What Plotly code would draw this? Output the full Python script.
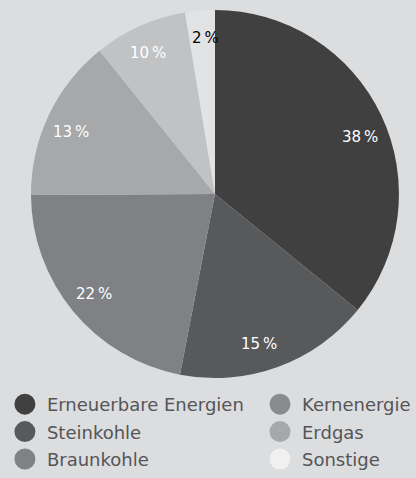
import math
import plotly.graph_objects as go

categories = ["Erneuerbare Energien", "Steinkohle", "Braunkohle", "Kernenergie", "Erdgas", "Sonstige"]
values = [35.9, 17.2, 21.9, 14.3, 8.2, 2.6]
# percentages printed on the slices
label_values = [38, 15, 22, 13, 10, 2]
colors = ["#404040", "#58595b", "#808184", "#a7a8aa", "#c1c2c4", "#e2e3e4"]
legend_colors = ["#404040", "#58595b", "#808184", "#8a8b8e", "#a7a8aa", "#f0f0f1"]
text_colors = ["white", "white", "white", "white", "white", "black"]

BG = "#dcdddf"
FONT = "DejaVu Sans"
W, H = 416, 478
DOM_X = [0.0745, 0.959]
DOM_Y = [0.209, 0.979]
LABEL_R = 0.85  # label distance as fraction of radius

fig = go.Figure()
fig.add_trace(go.Pie(
    labels=categories,
    values=values,
    textinfo="none",
    sort=False,
    direction="clockwise",
    rotation=0,
    marker=dict(colors=colors, line=dict(width=0)),
    showlegend=False,
    hoverinfo="label+percent",
    domain=dict(x=DOM_X, y=DOM_Y),
))

# printed labels, placed along the mid-angle of their printed share
cx = (DOM_X[0] + DOM_X[1]) / 2 * W
cy = (DOM_Y[0] + DOM_Y[1]) / 2 * H
rad = min((DOM_X[1] - DOM_X[0]) * W, (DOM_Y[1] - DOM_Y[0]) * H) / 2
total = sum(label_values)
cum = 0.0
for v, tc in zip(label_values, text_colors):
    mid = (cum + v / 2) / total * 2 * math.pi
    cum += v
    px = cx + LABEL_R * rad * math.sin(mid)
    py = cy + LABEL_R * rad * math.cos(mid)
    fig.add_annotation(x=px / W, y=py / H, xref="paper", yref="paper",
                       xanchor="center", yanchor="middle",
                       text=f"{v}\u2009%", showarrow=False,
                       font=dict(family=FONT, size=15, color=tc))

for i, (cat, col) in enumerate(zip(categories, legend_colors)):
    fig.add_trace(go.Scatter(
        x=[None], y=[None], mode="markers", name=cat,
        marker=dict(symbol="circle", size=16, color=col,
                    line=dict(width=5, color=col)),
        legend="legend" if i < 3 else "legend2",
        legendgroup=cat,
        showlegend=True,
    ))

legend_style = dict(
    font=dict(family=FONT, size=18, color="#555557"),
    bgcolor="rgba(0,0,0,0)",
    itemsizing="trace",
    itemwidth=34,
    yanchor="bottom", y=0,
    tracegroupgap=1,
)
fig.update_layout(
    width=W, height=H,
    margin=dict(l=0, r=0, t=0, b=0),
    paper_bgcolor=BG, plot_bgcolor=BG,
    xaxis=dict(visible=False), yaxis=dict(visible=False),
    legend=dict(x=0.007, xanchor="left", **legend_style),
    legend2=dict(x=1, xanchor="right", **legend_style),
)
fig.write_html("out.html", config={"displayModeBar": False},
               post_script="document.body.style.margin='0';")
